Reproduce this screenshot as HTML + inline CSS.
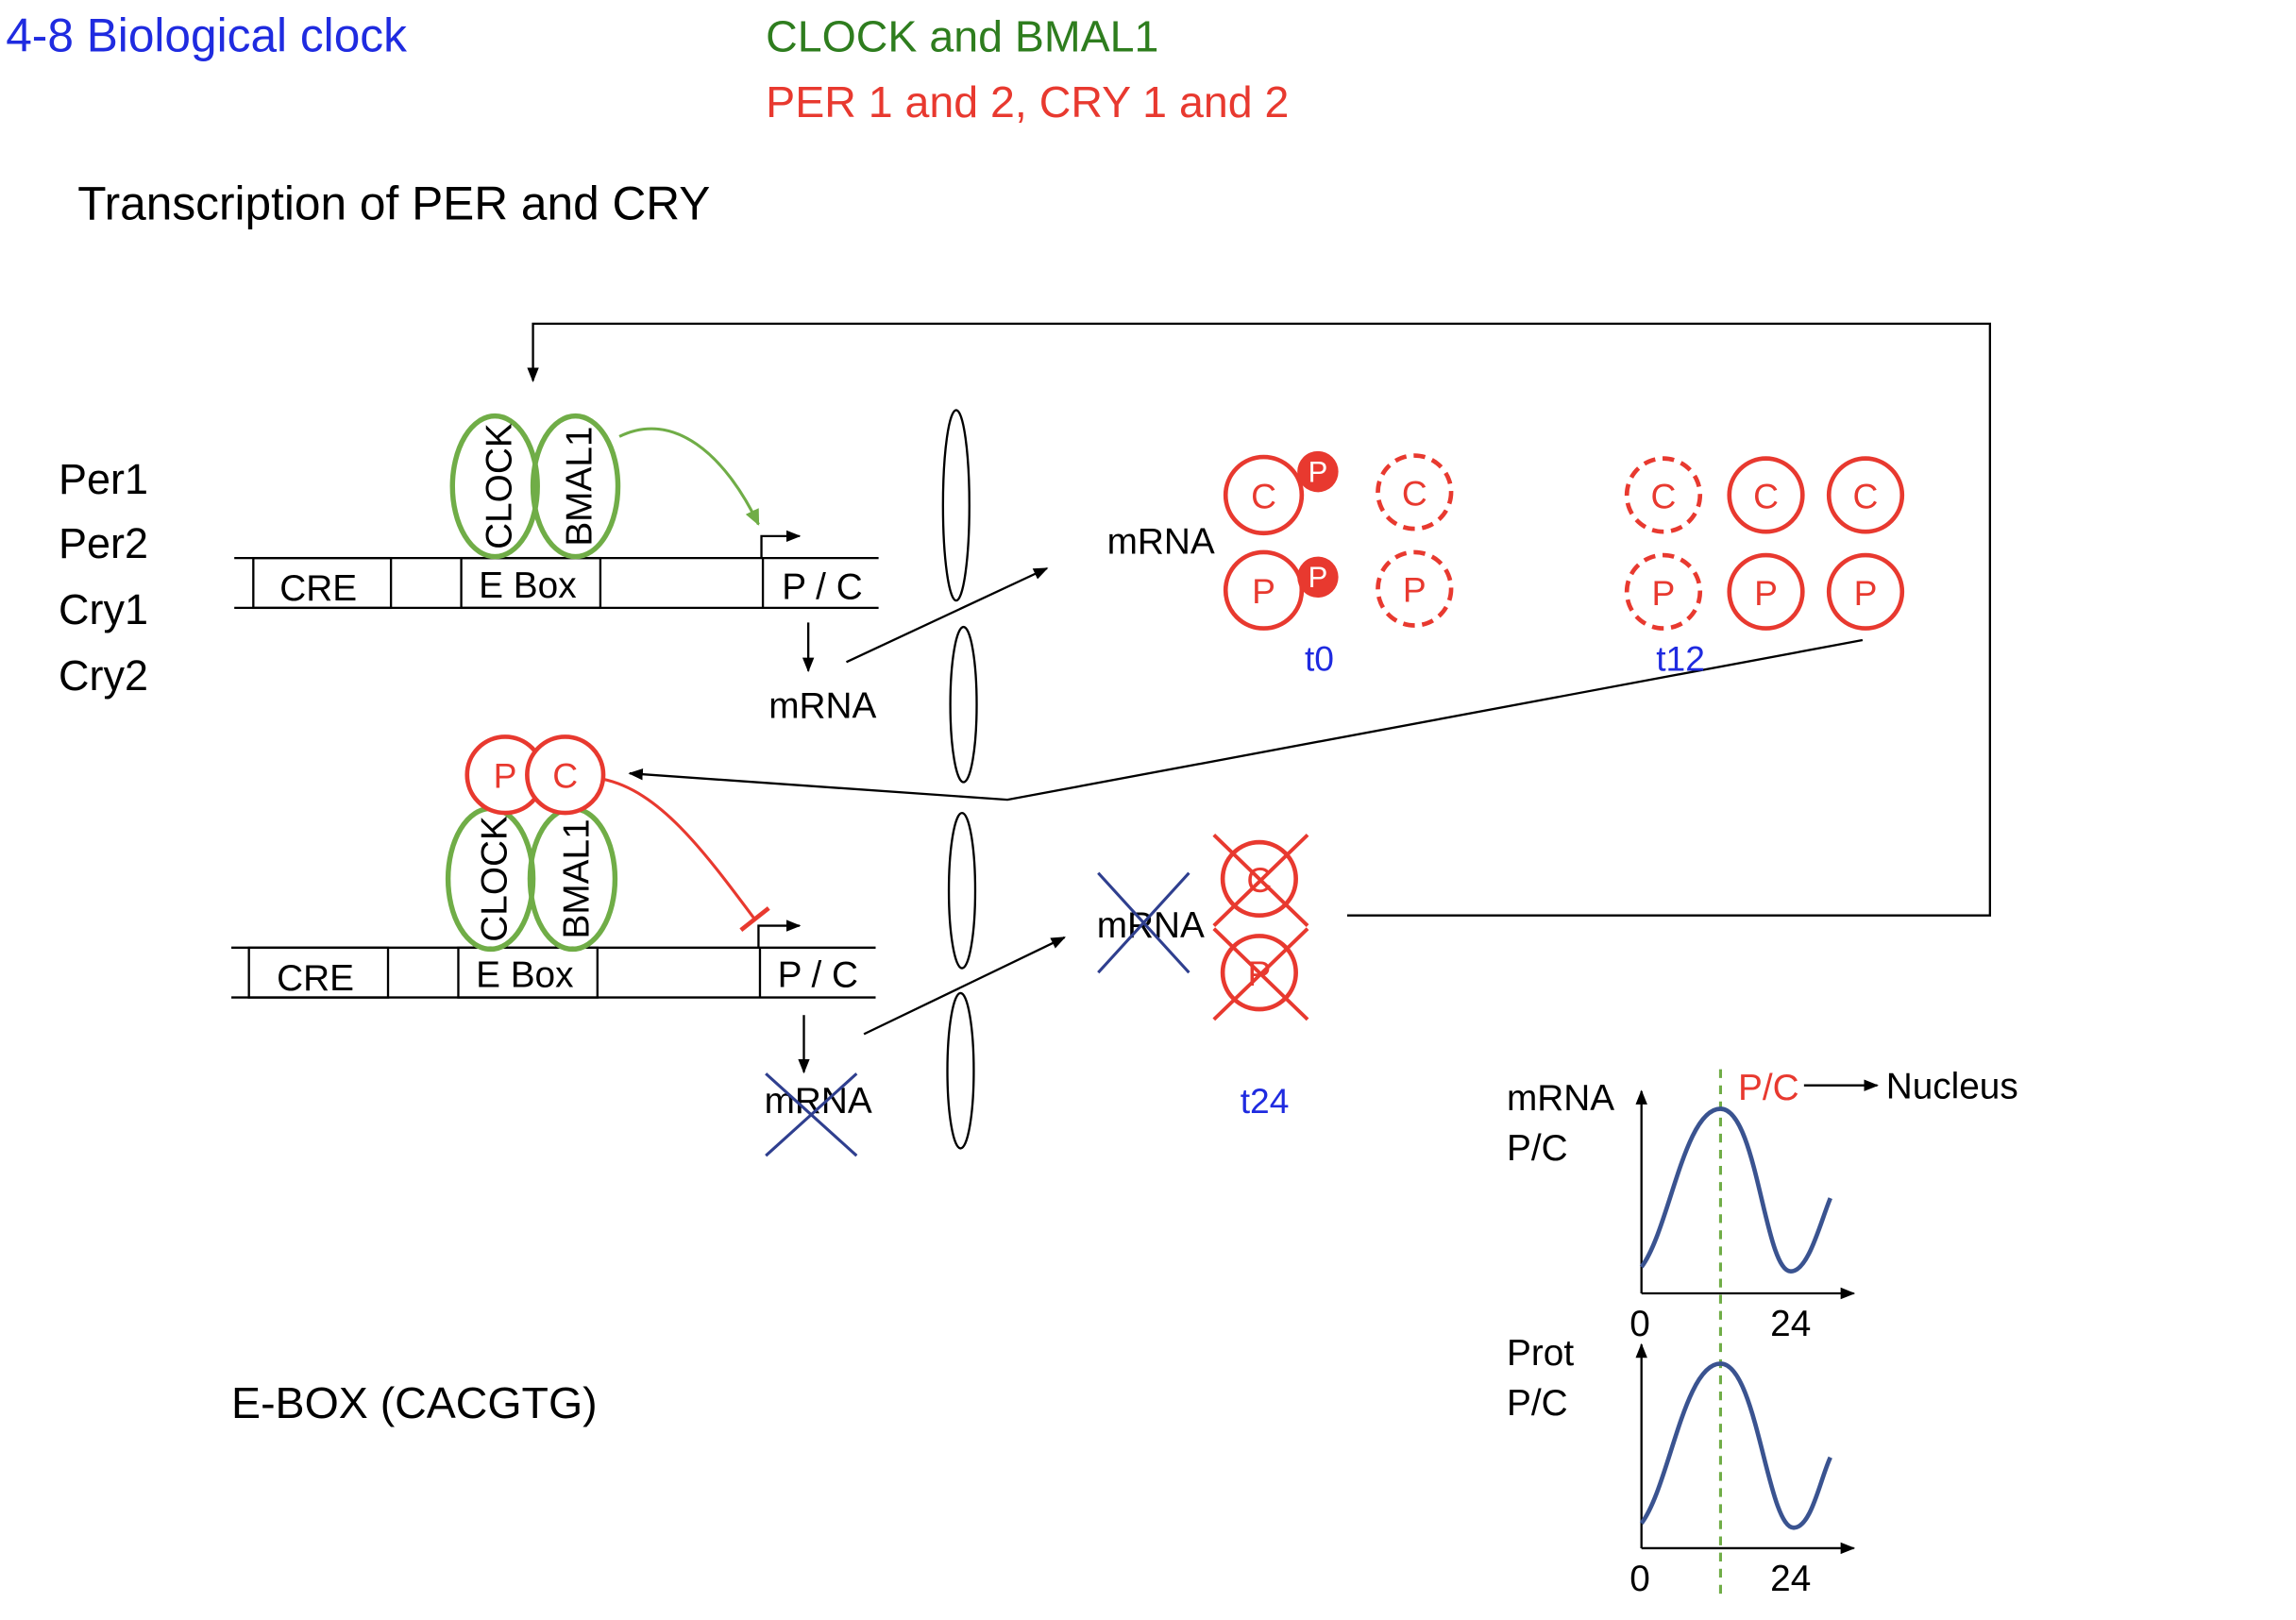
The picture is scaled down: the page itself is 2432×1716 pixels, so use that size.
<!DOCTYPE html>
<html><head><meta charset="utf-8"><style>html,body{margin:0;padding:0;background:#fff}svg{display:block}text{font-family:"Liberation Sans",sans-serif}</style></head><body>
<svg width="2432" height="1716" viewBox="0 0 1568 1106" preserveAspectRatio="none" xmlns="http://www.w3.org/2000/svg">
<defs>
<marker id="ah" markerWidth="10" markerHeight="10" refX="9" refY="5" orient="auto" markerUnits="userSpaceOnUse"><path d="M0,1 L10,5 L0,9z" fill="#000"/></marker>
<marker id="ahg" markerWidth="12" markerHeight="12" refX="10" refY="6" orient="auto" markerUnits="userSpaceOnUse"><path d="M0,1 L11,6 L0,11z" fill="#70ad47"/></marker>
</defs>
<text x="4" y="35" font-size="32" fill="#1f2be0">4-8 Biological clock</text>
<text x="523" y="35" font-size="30" fill="#2e7d1e">CLOCK and BMAL1</text>
<text x="523" y="80" font-size="30" fill="#e8392f">PER 1 and 2, CRY 1 and 2</text>
<text x="53" y="150" font-size="32" fill="#000">Transcription of PER and CRY</text>
<g font-size="29" fill="#000"><text x="40" y="337">Per1</text><text x="40" y="381">Per2</text><text x="40" y="426">Cry1</text><text x="40" y="471">Cry2</text></g>
<text x="158" y="968" font-size="30">E-BOX (CACGTG)</text>

<g stroke="#000" stroke-width="1.5" fill="none">
<line x1="160" y1="381" x2="600" y2="381"/><line x1="160" y1="415" x2="600" y2="415"/>
<rect x="173" y="381" width="94" height="34"/><rect x="315" y="381" width="95" height="34"/><line x1="521" y1="381" x2="521" y2="415"/>
<polyline points="520,381 520,366 546,366" marker-end="url(#ah)"/>
<line x1="552" y1="425" x2="552" y2="458" marker-end="url(#ah)"/>
<line x1="578" y1="452" x2="715" y2="388" marker-end="url(#ah)"/>
<line x1="158" y1="647" x2="598" y2="647"/><line x1="158" y1="681" x2="598" y2="681"/>
<rect x="170" y="647" width="95" height="34"/><rect x="313" y="647" width="95" height="34"/><line x1="519" y1="647" x2="519" y2="681"/>
<polyline points="518,647 518,632 546,632" marker-end="url(#ah)"/>
<line x1="549" y1="693" x2="549" y2="732" marker-end="url(#ah)"/>
<line x1="590" y1="706" x2="727" y2="640" marker-end="url(#ah)"/>
<ellipse cx="653" cy="345" rx="9" ry="65"/><ellipse cx="658" cy="481" rx="9" ry="53"/><ellipse cx="657" cy="608" rx="9" ry="53"/><ellipse cx="656" cy="731" rx="9" ry="53"/>
<polyline points="1272,437 688,546 430,528" marker-end="url(#ah)"/>
<polyline points="920,625 1359,625 1359,221 364,221 364,260" marker-end="url(#ah)"/>
<line x1="1121" y1="883" x2="1121" y2="745" marker-end="url(#ah)"/>
<line x1="1121" y1="883" x2="1266" y2="883" marker-end="url(#ah)"/>
<line x1="1121" y1="1057" x2="1121" y2="918" marker-end="url(#ah)"/>
<line x1="1121" y1="1057" x2="1266" y2="1057" marker-end="url(#ah)"/>
<line x1="1232" y1="741" x2="1282" y2="741" marker-end="url(#ah)"/>
</g>
<g font-size="25" fill="#000">
<text x="534" y="409">P / C</text><text x="191" y="410">CRE</text><text x="327" y="408">E Box</text>
<text x="531" y="674">P / C</text><text x="189" y="676">CRE</text><text x="325" y="674">E Box</text>
<text x="525" y="490">mRNA</text><text x="756" y="378">mRNA</text>
<text x="522" y="760">mRNA</text><text x="749" y="640">mRNA</text>
<text x="1029" y="758">mRNA</text><text x="1029" y="792">P/C</text>
<text x="1029" y="932">Prot</text><text x="1029" y="966">P/C</text>
<text x="1113" y="912">0</text><text x="1209" y="912">24</text>
<text x="1113" y="1086">0</text><text x="1209" y="1086">24</text>
<text x="1288" y="750">Nucleus</text>
</g>
<text x="1187" y="751" font-size="25" fill="#e8392f">P/C</text>
<g font-size="24" fill="#1f2be0"><text x="891" y="458">t0</text><text x="1131" y="458">t12</text><text x="847" y="760">t24</text></g>
<g stroke="#2f3f8f" stroke-width="2"><line x1="523" y1="733" x2="585" y2="789"/><line x1="585" y1="733" x2="523" y2="789"/><line x1="750" y1="596" x2="812" y2="664"/><line x1="812" y1="596" x2="750" y2="664"/></g>
<g stroke="#70ad47" stroke-width="3.5" fill="none">
<ellipse cx="338" cy="332" rx="29" ry="48"/><ellipse cx="393" cy="332" rx="29" ry="48"/>
<ellipse cx="335" cy="600" rx="29" ry="48"/><ellipse cx="391" cy="600" rx="29" ry="48"/>
</g>
<path d="M423,298 C460,280 495,310 518,358" stroke="#70ad47" stroke-width="2" fill="none" marker-end="url(#ahg)"/>
<g font-size="25" fill="#000">
<text transform="translate(349,332) rotate(-90)" text-anchor="middle">CLOCK</text>
<text transform="translate(404,332) rotate(-90)" text-anchor="middle">BMAL1</text>
<text transform="translate(346,600) rotate(-90)" text-anchor="middle">CLOCK</text>
<text transform="translate(402,600) rotate(-90)" text-anchor="middle">BMAL1</text>
</g>
<g stroke="#e8392f" stroke-width="3" fill="#fff">
<circle cx="863" cy="338" r="26"/><circle cx="863" cy="403" r="26"/>
<circle cx="966" cy="336" r="25" stroke-dasharray="8,5"/><circle cx="966" cy="402" r="25" stroke-dasharray="8,5"/>
<circle cx="1136" cy="338" r="25" stroke-dasharray="8,5"/><circle cx="1206" cy="338" r="25"/><circle cx="1274" cy="338" r="25"/>
<circle cx="1136" cy="404" r="25" stroke-dasharray="8,5"/><circle cx="1206" cy="404" r="25"/><circle cx="1274" cy="404" r="25"/>
<circle cx="345" cy="529" r="26"/><circle cx="386" cy="529" r="26"/>
<circle cx="860" cy="600" r="25"/><circle cx="860" cy="664" r="25"/>
</g>
<circle cx="900" cy="322" r="14" fill="#e8392f"/><circle cx="900" cy="394" r="14" fill="#e8392f"/>
<g font-size="24" fill="#e8392f" text-anchor="middle">
<text x="863" y="347">C</text><text x="863" y="412">P</text><text x="966" y="345">C</text><text x="966" y="411">P</text>
<text x="1136" y="347">C</text><text x="1206" y="347">C</text><text x="1274" y="347">C</text>
<text x="1136" y="413">P</text><text x="1206" y="413">P</text><text x="1274" y="413">P</text>
<text x="345" y="538">P</text><text x="386" y="538">C</text>
<text x="860" y="609">C</text><text x="860" y="673">P</text>
</g>
<g font-size="20" fill="#fff" text-anchor="middle"><text x="900" y="329">P</text><text x="900" y="401">P</text></g>
<g stroke="#e8392f" stroke-width="2.5"><line x1="829" y1="570" x2="893" y2="632"/><line x1="893" y1="570" x2="829" y2="632"/><line x1="829" y1="634" x2="893" y2="696"/><line x1="893" y1="634" x2="829" y2="696"/></g>
<path d="M412,532 C450,540 480,580 515,627" stroke="#e8392f" stroke-width="2" fill="none"/>
<line x1="506" y1="635" x2="525" y2="620" stroke="#e8392f" stroke-width="3"/>
<line x1="1175" y1="730" x2="1175" y2="1090" stroke="#70ad47" stroke-width="2" stroke-dasharray="6,5"/>
<g stroke="#3a5390" stroke-width="3" fill="none">
<path d="M1121,865 C1140,840 1150,757 1175,757 C1200,757 1205,868 1223,868 C1235,868 1243,835 1250,818"/>
<path d="M1121,1040 C1140,1015 1150,931 1175,931 C1200,931 1207,1043 1225,1043 C1237,1043 1243,1010 1250,995"/>
</g>
</svg>
</body></html>
